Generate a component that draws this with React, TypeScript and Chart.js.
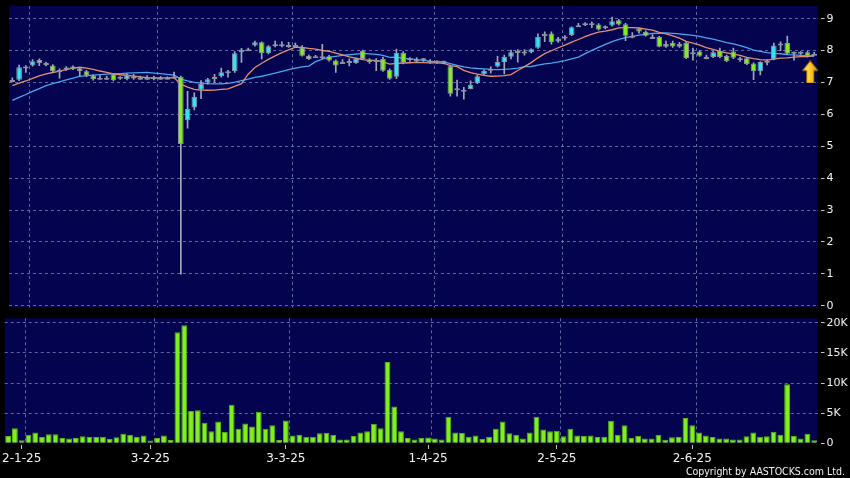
import React, { useEffect, useRef } from 'react';
import { Chart, registerables } from 'chart.js';

Chart.register(...registerables);

// Trading days shown (year, month, days)
const tradingDays: [number, number, number[]][] = [
  [2024, 12, [30, 31]],
  [2025, 1, [2, 3, 6, 7, 8, 9, 10, 13, 14, 15, 16, 17, 20, 21, 22, 23, 24, 27, 28]],
  [2025, 2, [3, 4, 5, 6, 7, 10, 11, 12, 13, 14, 17, 18, 19, 20, 21, 24, 25, 26, 27, 28]],
  [2025, 3, [3, 4, 5, 6, 7, 10, 11, 12, 13, 14, 17, 18, 19, 20, 21, 24, 25, 26, 27, 28, 31]],
  [2025, 4, [1, 2, 3, 7, 8, 9, 10, 11, 14, 15, 16, 17, 22, 23, 24, 25, 28, 29, 30]],
  [2025, 5, [2, 6, 7, 8, 9, 12, 13, 14, 15, 16, 19, 20, 21, 22, 23, 26, 27, 28, 29, 30]],
  [2025, 6, [2, 3, 4, 5, 6, 9, 10, 11, 12, 13, 16, 17, 18, 19, 20, 23, 24, 25, 26]],
];

const opens = [
  7.08, 7.09, 7.50, 7.53, 7.71, 7.60, 7.53, 7.39, 7.41, 7.50,
  7.45, 7.35, 7.22, 7.15, 7.15, 7.26, 7.17, 7.10, 7.19, 7.15,
  7.15, 7.17, 7.15, 7.15, 7.19, 7.17, 5.82, 6.22, 6.77, 7.00,
  7.17, 7.20, 7.35, 7.35, 7.95, 8.04, 8.16, 8.26, 7.92, 8.20,
  8.20, 8.18, 8.18, 8.10, 7.84, 7.82, 7.82, 7.82, 7.69, 7.64,
  7.67, 7.61, 8.00, 7.72, 7.71, 7.74, 7.40, 7.18, 7.93, 7.70,
  7.72, 7.72, 7.69, 7.64, 7.64, 7.51, 6.80, 6.77, 6.80, 6.98,
  7.26, 7.43, 7.50, 7.64, 7.81, 7.99, 7.97, 7.95, 8.09, 8.45,
  8.54, 8.29, 8.38, 8.49, 8.80, 8.86, 8.84, 8.82, 8.70, 8.79,
  8.95, 8.83, 8.47, 8.68, 8.59, 8.43, 8.43, 8.12, 8.25, 8.12,
  8.24, 7.95, 7.97, 7.80, 7.80, 8.00, 7.83, 7.97, 7.76, 7.76,
  7.60, 7.35, 7.68, 7.73, 8.22, 8.24, 7.94, 7.94, 7.95, 7.90,
];

const highs = [
  7.15, 7.55, 7.53, 7.72, 7.74, 7.64, 7.56, 7.43, 7.50, 7.52,
  7.48, 7.38, 7.24, 7.22, 7.20, 7.28, 7.19, 7.28, 7.26, 7.20,
  7.22, 7.20, 7.19, 7.18, 7.33, 7.20, 6.72, 6.68, 7.06, 7.13,
  7.26, 7.45, 7.38, 7.97, 8.07, 8.08, 8.30, 8.28, 8.16, 8.30,
  8.28, 8.26, 8.24, 8.16, 7.86, 7.85, 8.20, 7.85, 7.71, 7.72,
  7.74, 7.76, 8.02, 7.75, 7.75, 7.80, 7.43, 8.05, 7.97, 7.78,
  7.78, 7.76, 7.72, 7.68, 7.67, 7.55, 7.08, 6.85, 7.05, 7.24,
  7.40, 7.49, 7.82, 7.86, 8.02, 8.03, 8.03, 8.06, 8.53, 8.59,
  8.59, 8.42, 8.47, 8.75, 8.86, 8.88, 8.90, 8.85, 8.78, 9.05,
  8.98, 8.86, 8.57, 8.70, 8.62, 8.50, 8.45, 8.30, 8.30, 8.26,
  8.29, 8.08, 8.00, 7.86, 7.98, 8.08, 7.86, 8.08, 7.80, 7.78,
  7.62, 7.66, 7.72, 8.24, 8.28, 8.46, 7.96, 7.97, 7.98, 7.95,
];

const lows = [
  7.02, 7.06, 7.32, 7.51, 7.53, 7.52, 7.32, 7.14, 7.38, 7.40,
  7.20, 7.18, 7.07, 7.10, 7.10, 7.05, 7.10, 7.08, 7.10, 7.10,
  7.10, 7.08, 7.10, 7.11, 7.14, 0.99, 5.57, 6.14, 6.49, 6.95,
  7.00, 7.17, 7.17, 7.32, 7.63, 8.00, 8.14, 7.74, 7.90, 8.12,
  8.12, 8.10, 8.12, 7.83, 7.72, 7.78, 7.74, 7.67, 7.32, 7.61,
  7.52, 7.60, 7.72, 7.60, 7.37, 7.35, 7.10, 7.12, 7.58, 7.66,
  7.62, 7.66, 7.60, 7.60, 7.58, 6.57, 6.57, 6.48, 6.80, 6.96,
  7.24, 7.29, 7.48, 7.27, 7.74, 7.64, 7.86, 7.93, 8.07, 8.28,
  8.20, 8.26, 8.33, 8.47, 8.77, 8.78, 8.72, 8.64, 8.68, 8.77,
  8.80, 8.31, 8.40, 8.55, 8.45, 8.40, 8.12, 8.10, 8.10, 8.10,
  7.75, 7.70, 7.82, 7.74, 7.78, 7.77, 7.65, 7.75, 7.66, 7.56,
  7.09, 7.24, 7.55, 7.71, 8.00, 7.88, 7.70, 7.88, 7.80, 7.86,
];

const closes = [
  7.08, 7.48, 7.50, 7.67, 7.61, 7.55, 7.35, 7.39, 7.47, 7.42,
  7.35, 7.22, 7.10, 7.15, 7.15, 7.07, 7.12, 7.23, 7.19, 7.15,
  7.15, 7.10, 7.15, 7.15, 7.19, 5.07, 6.17, 6.55, 6.95, 7.10,
  7.17, 7.32, 7.35, 7.92, 8.03, 8.04, 8.26, 7.92, 8.14, 8.20,
  8.20, 8.18, 8.18, 7.84, 7.74, 7.82, 7.82, 7.69, 7.53, 7.64,
  7.61, 7.74, 7.74, 7.64, 7.71, 7.37, 7.12, 7.93, 7.62, 7.72,
  7.72, 7.70, 7.62, 7.63, 7.62, 6.65, 6.76, 6.77, 6.93, 7.20,
  7.36, 7.43, 7.64, 7.80, 7.95, 7.92, 7.97, 8.04, 8.43, 8.52,
  8.26, 8.38, 8.44, 8.73, 8.80, 8.80, 8.80, 8.66, 8.76, 8.92,
  8.82, 8.47, 8.47, 8.60, 8.47, 8.43, 8.12, 8.21, 8.13, 8.21,
  7.77, 7.95, 7.84, 7.80, 7.95, 7.80, 7.67, 7.78, 7.76, 7.58,
  7.35, 7.64, 7.68, 8.16, 8.22, 7.90, 7.90, 7.90, 7.83, 7.90,
];

// Estimated closes of the 19 sessions before the window (seed the moving averages)
const priorCloses = [
  5.60, 5.70, 5.75, 5.80, 5.75, 6.10, 6.20, 6.25, 6.30, 6.35,
  6.70, 6.80, 6.85, 6.85, 6.92, 6.90, 6.95, 7.00, 6.95,
];

const volumes = [
  1200, 2500, 500, 1400, 1800, 1050, 1500, 1500, 900, 800,
  900, 1150, 1050, 1050, 1100, 700, 1000, 1600, 1400, 1050,
  1300, 450, 900, 1300, 550, 18450, 19600, 5350, 5500, 3400,
  2000, 3600, 1900, 6400, 2400, 3300, 2800, 5250, 2400, 3000,
  550, 3800, 1300, 1400, 1100, 1100, 1650, 1700, 1400, 650,
  650, 1200, 1800, 2000, 3250, 2500, 13500, 6100, 2000, 900,
  650, 900, 950, 800, 650, 4400, 1800, 1700, 1100, 1300,
  700, 1100, 2400, 3600, 1650, 1400, 800, 1800, 4400, 2300,
  2000, 2100, 1150, 2400, 1300, 1200, 1300, 1050, 1100, 3750,
  1400, 3000, 900, 1200, 800, 800, 1400, 600, 1000, 1050,
  4200, 3000, 1800, 1300, 1050, 800, 800, 650, 650, 1150,
  1800, 1100, 1150, 1900, 1400, 9800, 1200, 800, 1600, 500,
];

const priceTicks = [0, 1, 2, 3, 4, 5, 6, 7, 8, 9];
const volumeTicks = [0, 5000, 10000, 15000, 20000];
const maPeriods = [10, 20];
const markerLevel = 7.33; // level of the arrow marker under the last session
const copyrightText = 'Copyright by AASTOCKS.com Ltd.';

// ---- derived ----
const categories: string[] = [];
const monthOf: number[] = [];
tradingDays.forEach(([y, m, days]) => {
  days.forEach((d) => {
    categories.push(`${d}-${m}-${String(y).slice(2)}`);
    monthOf.push(m);
  });
});
const monthStarts = monthOf
  .map((m, i) => (i > 0 && m !== monthOf[i - 1] ? i : -1))
  .filter((i) => i >= 0);

function movingAverage(values: number[], prior: number[], n: number) {
  const all = [...prior, ...values];
  return values.map((_, i) => {
    const end = prior.length + i;
    const win = all.slice(Math.max(0, end - n + 1), end + 1);
    return win.reduce((a, b) => a + b, 0) / win.length;
  });
}

const PANEL_BG = '#03034f';
const GRID = 'rgba(125,135,185,0.75)';
const TEXT = '#f2f2f2';
const FONT = 'DejaVu Sans';
const UP = '#36e2f2';
const DOWN = '#84ec1e';
const FLAT = '#a4acbc';
const AXIS_W = 32.4;

function panelPlugin(ticks: number[]) {
  return {
    id: 'panel',
    beforeDraw(chart: any) {
      const { ctx, chartArea: a } = chart;
      ctx.save();
      ctx.fillStyle = PANEL_BG;
      ctx.fillRect(a.left, a.top, a.right - a.left, a.bottom - a.top);
      ctx.restore();
    },
    beforeDatasetsDraw(chart: any) {
      const x = chart.scales.x;
      const a = chart.chartArea;
      const ctx = chart.ctx;
      const half = (x.getPixelForValue(1) - x.getPixelForValue(0)) / 2;
      ctx.save();
      ctx.strokeStyle = GRID;
      ctx.lineWidth = 1;
      ctx.setLineDash([3, 3]);
      ticks.forEach((i) => {
        const px = Math.round(x.getPixelForValue(i) + half) + 0.5;
        ctx.beginPath();
        ctx.moveTo(px, a.top);
        ctx.lineTo(px, a.bottom);
        ctx.stroke();
      });
      ctx.restore();
    },
  };
}

function makeArrow() {
  // 24px wide sprite, arrow drawn in its left 16px (sits slightly left of the point)
  const c = document.createElement('canvas');
  c.width = 24;
  c.height = 23;
  const g = c.getContext('2d')!;
  const grad = g.createLinearGradient(0, 0, 16, 0);
  grad.addColorStop(0, '#fff0a0');
  grad.addColorStop(0.45, '#ffd22a');
  grad.addColorStop(1, '#d89400');
  g.beginPath();
  g.moveTo(8, 0.5);
  g.lineTo(15.5, 10);
  g.lineTo(11.5, 10);
  g.lineTo(11.5, 22.5);
  g.lineTo(4.5, 22.5);
  g.lineTo(4.5, 10);
  g.lineTo(0.5, 10);
  g.closePath();
  g.fillStyle = grad;
  g.fill();
  g.strokeStyle = '#b87400';
  g.lineWidth = 1;
  g.stroke();
  return c;
}

export default function App() {
  const priceRef = useRef<HTMLCanvasElement>(null);
  const volRef = useRef<HTMLCanvasElement>(null);

  useEffect(() => {
    const bodyColors = opens.map((o, i) => (closes[i] > o ? UP : closes[i] < o ? DOWN : FLAT));
    const [maShort, maLong] = maPeriods.map((n) => movingAverage(closes, priorCloses, n));
    const last = categories.length - 1;
    const arrow = makeArrow();

    const price = new Chart(priceRef.current!, {
      type: 'bar',
      data: {
        labels: categories,
        datasets: [
          {
            type: 'line',
            data: maLong,
            borderColor: '#47a6ee',
            borderWidth: 1.3,
            pointRadius: 0,
            order: 11,
          } as any,
          {
            type: 'line',
            data: maShort,
            borderColor: '#e2906e',
            borderWidth: 1.3,
            pointRadius: 0,
            order: 10,
          } as any,
          {
            type: 'bar',
            data: lows.map((l, i) => [l, highs[i]]),
            backgroundColor: '#a0a8b8',
            barThickness: 1,
            grouped: false,
            order: 5,
          } as any,
          {
            type: 'bar',
            data: opens.map((o, i) => [o, closes[i]]),
            backgroundColor: bodyColors,
            borderColor: '#8a92a2',
            borderWidth: 1,
            borderSkipped: false,
            barPercentage: 0.84,
            categoryPercentage: 1,
            minBarLength: 2,
            grouped: false,
            order: 2,
          } as any,
          {
            type: 'line',
            data: categories.map((_, i) => (i === last ? markerLevel : null)),
            showLine: false,
            pointStyle: arrow,
            pointRadius: 8,
            order: 0,
          } as any,
        ],
      },
      options: {
        responsive: false,
        maintainAspectRatio: false,
        animation: false,
        devicePixelRatio: 1,
        events: [],
        layout: { padding: { left: 3.6, right: 0, top: 12, bottom: 12.4 } },
        plugins: { legend: { display: false }, tooltip: { enabled: false } },
        scales: {
          x: { display: false, offset: true },
          y: {
            position: 'right',
            min: -0.06,
            max: 9.4,
            afterBuildTicks: (s: any) => {
              s.ticks = priceTicks.map((v) => ({ value: v }));
            },
            afterFit: (s: any) => {
              s.width = AXIS_W;
            },
            ticks: {
              color: TEXT,
              font: { family: FONT, size: 11 },
              padding: 2,
              callback: (v: any) => String(v),
            },
            grid: {
              color: GRID,
              lineWidth: 1,
              tickLength: 7,
              tickColor: '#c8c8c8',
              tickBorderDash: [0, 3, 4, 30],
            },
            border: { display: false, dash: [3, 3] },
          },
        },
      },
      plugins: [panelPlugin(monthStarts)],
    } as any);

    const vol = new Chart(volRef.current!, {
      type: 'bar',
      data: {
        labels: categories,
        datasets: [
          {
            data: volumes,
            backgroundColor: '#7ff01c',
            borderColor: '#58b010',
            borderWidth: 1,
            barPercentage: 0.86,
            categoryPercentage: 1,
          },
        ],
      },
      options: {
        responsive: false,
        maintainAspectRatio: false,
        animation: false,
        devicePixelRatio: 1,
        events: [],
        layout: { padding: { left: 3.6, right: 0, top: 10.3, bottom: 12.7 } },
        plugins: { legend: { display: false }, tooltip: { enabled: false } },
        scales: {
          x: {
            offset: true,
            afterBuildTicks: (s: any) => {
              s.ticks = monthStarts.map((i) => ({ value: i }));
            },
            afterFit: (s: any) => {
              s.height = 22;
            },
            ticks: {
              autoSkip: false,
              maxRotation: 0,
              color: TEXT,
              font: { family: FONT, size: 12 },
              padding: 2,
              callback: (v: any) => categories[v],
            },
            grid: {
              drawOnChartArea: false,
              offset: false,
              tickLength: 6,
              tickColor: '#c8c8c8',
              tickBorderDash: [0, 2, 4, 30],
            },
            border: { display: false },
          },
          y: {
            position: 'right',
            min: 0,
            max: 20750,
            afterBuildTicks: (s: any) => {
              s.ticks = volumeTicks.map((v) => ({ value: v }));
            },
            afterFit: (s: any) => {
              s.width = AXIS_W;
            },
            ticks: {
              color: TEXT,
              font: { family: FONT, size: 11 },
              padding: 2,
              callback: (v: any) => (v === 0 ? '0' : `${v / 1000}K`),
            },
            grid: {
              color: (c: any) => (c.tick && c.tick.value === 0 ? 'rgba(0,0,0,0)' : GRID),
              lineWidth: 1,
              tickLength: 7,
              tickColor: '#c8c8c8',
              tickBorderDash: [0, 3, 4, 30],
            },
            border: { display: false, dash: [3, 3] },
          },
        },
      },
      plugins: [panelPlugin(monthStarts)],
    } as any);

    return () => {
      price.destroy();
      vol.destroy();
    };
  }, []);

  return (
    <div
      style={{
        position: 'fixed',
        left: 0,
        top: 0,
        width: 850,
        height: 478,
        background: '#000',
        overflow: 'hidden',
      }}
    >
      <canvas ref={priceRef} width={850} height={326} style={{ position: 'absolute', left: 0, top: -6 }} />
      <canvas ref={volRef} width={850} height={170} style={{ position: 'absolute', left: 0, top: 308 }} />
      <div
        style={{
          position: 'absolute',
          right: 5,
          top: 465,
          color: TEXT,
          fontFamily: `'DejaVu Sans Condensed', '${FONT}', sans-serif`,
          fontSize: 10.5,
          lineHeight: '12px',
          whiteSpace: 'nowrap',
        }}
      >
        {copyrightText}
      </div>
    </div>
  );
}
